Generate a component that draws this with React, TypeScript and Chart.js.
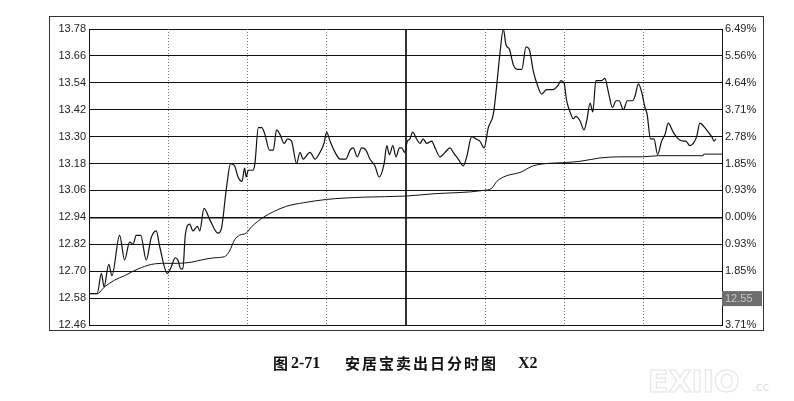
import { useEffect, useRef } from 'react';
import { Chart, registerables } from 'chart.js';

Chart.register(...registerables);

// ---- data (minutes since open, price) ----
const priceMinutes = [
  0, 3.1, 4.7, 5.7, 7.5, 8.7, 11.6, 13.5, 15.4, 16.7, 17.9, 19.6, 21.7, 23.6, 25.5, 26.8,
  29.7, 31.2, 32.7, 33.7, 34.8, 35.6, 36.5, 38.2, 39.4, 41.1, 42.0, 43.6, 45.8, 48.9, 50.2,
  52.1, 53.7, 55.2, 56.5, 58.0, 59.0, 59.6, 60.4, 62.1, 62.9, 64.2, 65.5, 66.7, 68.4, 69.9,
  71.1, 72.4, 74.0, 75.3, 76.8, 78.7, 80.0, 81.2, 83.8, 85.7, 87.6, 89.1, 90.1, 91.4, 93.3,
  95.2, 97.4, 99.0, 100.2, 101.7, 103.4, 105.0, 106.5, 108.4, 110.0, 111.9, 112.9, 113.9,
  115.2, 116.4, 117.7, 118.6, 119.6, 120.7, 121.7, 122.7, 124.2, 125.5, 126.7, 128.0, 129.9,
  131.2, 133.1, 135.0, 136.9, 138.1, 140.0, 141.9, 143.2, 145.1, 146.7, 148.2, 149.8, 151.4,
  153.3, 154.6, 155.8, 157.1, 158.1, 159.4, 160.9, 162.4, 164.1, 165.7, 166.9, 168.5, 170.0,
  171.6, 173.5, 176.0, 177.9, 178.9, 180.1, 181.1, 182.4, 183.6, 184.6, 186.2, 187.7, 188.7,
  190.0, 191.0, 192.2, 194.4, 195.6, 196.9, 198.5, 199.8, 201.0, 202.6, 204.1, 206.1, 207.0,
  208.3, 209.5, 210.8, 211.6, 212.9, 214.2, 215.6, 217.1, 218.4, 219.6, 221.5, 223.4, 225.3,
  226.3, 227.8, 229.1, 230.4, 231.6, 233.5, 234.8, 236.1, 237.0, 237.7,
];
const priceValues = [
  12.60, 12.60, 12.69, 12.63, 12.73, 12.68, 12.86, 12.75, 12.83, 12.82, 12.86, 12.86, 12.75, 12.85, 12.88, 12.81,
  12.69, 12.72, 12.76, 12.75, 12.71, 12.71, 12.86, 12.91, 12.88, 12.90, 12.88, 12.98, 12.93, 12.87, 12.89,
  13.07, 13.18, 13.17, 13.12, 13.10, 13.16, 13.12, 13.15, 13.15, 13.18, 13.34, 13.34, 13.31, 13.24, 13.24,
  13.33, 13.31, 13.27, 13.29, 13.28, 13.18, 13.23, 13.20, 13.23, 13.20, 13.23, 13.27, 13.32, 13.28, 13.23,
  13.20, 13.20, 13.24, 13.25, 13.21, 13.25, 13.24, 13.20, 13.17, 13.12, 13.18, 13.26, 13.22,
  13.26, 13.21, 13.25, 13.25, 13.23, 13.28, 13.29, 13.32, 13.29, 13.27, 13.29, 13.27, 13.28,
  13.25, 13.21, 13.23, 13.25, 13.23, 13.20, 13.17, 13.21, 13.30, 13.29, 13.28, 13.25, 13.34,
  13.40, 13.53, 13.67, 13.78, 13.71, 13.69, 13.62, 13.60, 13.60, 13.70, 13.69, 13.59, 13.53,
  13.49, 13.51, 13.51, 13.53, 13.55, 13.54, 13.46, 13.41, 13.38, 13.39, 13.37, 13.33, 13.37,
  13.45, 13.41, 13.55, 13.55, 13.56, 13.50, 13.43, 13.46, 13.46, 13.42, 13.46, 13.46, 13.48,
  13.535, 13.50, 13.43, 13.40, 13.29, 13.29, 13.22, 13.28, 13.31, 13.36, 13.32, 13.29, 13.28,
  13.28, 13.26, 13.27, 13.30, 13.36, 13.34, 13.32, 13.30, 13.28, 13.29,
];
const avgMinutes = [
  0, 3.1, 5.9, 9.7, 13.5, 18.6, 23.6, 28.7, 33.7, 38.8, 42.6, 47.7, 51.4, 53.3, 55.2, 57.1,
  59.6, 61.8, 66.1, 69.9, 75.0, 81.3, 90.1, 104.0, 120.1, 130.4, 149.4, 152.7, 154.6, 157.1,
  159.6, 163.4, 168.5, 181.1, 186.2, 193.8, 201.3, 209.9, 215.9, 224.1, 232.9, 233.0, 240,
];
const avgValues = [
  12.60, 12.60, 12.63, 12.66, 12.68, 12.71, 12.73, 12.735, 12.735, 12.74, 12.75, 12.76, 12.765, 12.79, 12.84, 12.86,
  12.87, 12.90, 12.94, 12.965, 12.99, 13.005, 13.02, 13.03, 13.035, 13.045, 13.06, 13.07, 13.10, 13.12,
  13.13, 13.14, 13.17, 13.185, 13.19, 13.205, 13.21, 13.21, 13.215, 13.215, 13.215, 13.222, 13.222,
];

const priceTicks = [12.46, 12.58, 12.70, 12.82, 12.94, 13.06, 13.18, 13.30, 13.42, 13.54, 13.66, 13.78];
const priceTickLabels = ['12.46', '12.58', '12.70', '12.82', '12.94', '13.06', '13.18', '13.30', '13.42', '13.54', '13.66', '13.78'];
const pctTickLabels = ['3.71%', '2.78%', '1.85%', '0.93%', '0.00%', '0.93%', '1.85%', '2.78%', '3.71%', '4.64%', '5.56%', '6.49%'];
const basePrice = 12.94;
const timeGridMinutes = [30, 60, 90, 120, 150, 180, 210];
const middayMinute = 120;
const tagPrice = 12.58;
const tagLabel = '12.55';
const captionFig = '图 2-71';
const captionTitle = '安居宝卖出日分时图';
const captionTag = 'X2';

const decorPlugin = {
  id: 'decor',
  beforeDatasetsDraw(chart: any) {
    const { ctx, chartArea, scales } = chart;
    const xs = scales.x;
    ctx.save();
    timeGridMinutes.forEach((m) => {
      const px = Math.round(xs.getPixelForValue(m));
      ctx.beginPath();
      if (m === middayMinute) {
        ctx.setLineDash([]);
        ctx.strokeStyle = '#000';
        ctx.lineWidth = 1.6;
        ctx.moveTo(px, chartArea.top);
        ctx.lineTo(px, chartArea.bottom);
      } else {
        ctx.setLineDash([1, 2]);
        ctx.strokeStyle = '#777';
        ctx.lineWidth = 1;
        ctx.moveTo(px + 0.5, chartArea.top);
        ctx.lineTo(px + 0.5, chartArea.bottom);
      }
      ctx.stroke();
    });
    ctx.restore();
  },
  afterDraw(chart: any) {
    const { ctx, chartArea, scales } = chart;
    ctx.save();
    // outer frame
    ctx.strokeStyle = '#333';
    ctx.lineWidth = 1;
    ctx.strokeRect(49.5, 16.5, 714, 314);
    // last price tag
    const ty = scales.y.getPixelForValue(tagPrice);
    ctx.fillStyle = '#6e6e6e';
    ctx.fillRect(chartArea.right, ty - 7, 40, 15);
    ctx.fillStyle = '#c8c8c8';
    ctx.font = '11px "Liberation Sans", Arial';
    ctx.textBaseline = 'middle';
    ctx.textAlign = 'left';
    ctx.fillText(tagLabel, chartArea.right + 3, ty + 1);
    // caption
    ctx.fillStyle = '#111';
    ctx.textBaseline = 'middle';
    (ctx as any).letterSpacing = '0px';
    ctx.font = 'bold 15px "Noto Sans CJK SC"';
    ctx.fillText(captionFig.slice(0, 1), 273, 363);
    ctx.font = 'bold 16px "Liberation Serif"';
    ctx.fillText(captionFig.slice(2), 291, 364);
    ctx.font = 'bold 15px "Noto Sans CJK SC"';
    (ctx as any).letterSpacing = '2px';
    ctx.fillText(captionTitle, 345, 363);
    (ctx as any).letterSpacing = '0px';
    ctx.font = 'bold 16px "Liberation Serif"';
    ctx.fillText(captionTag, 518, 364);
    // watermark
    ctx.strokeStyle = '#e4e4e4';
    ctx.lineWidth = 1;
    ctx.font = 'bold 30px "DejaVu Sans"';
    ctx.textBaseline = 'alphabetic';
    ctx.strokeText('EXIIO', 648, 392);
    ctx.fillStyle = '#dedede';
    ctx.font = '12px "DejaVu Sans"';
    ctx.fillText('.cc', 752, 391);
    ctx.restore();
  },
};

export default function App() {
  const ref = useRef<HTMLCanvasElement>(null);
  useEffect(() => {
    if (!ref.current) return;
    const setTicks = (axis: any) => {
      axis.ticks = priceTicks.map((v) => ({ value: v }));
    };
    const chart = new Chart(ref.current, {
      type: 'line',
      data: {
        datasets: [
          {
            data: priceMinutes.map((m, i) => ({ x: m, y: priceValues[i] })),
            borderColor: '#111',
            borderWidth: 1.2,
            pointRadius: 0,
            tension: 0.3,
            cubicInterpolationMode: 'monotone',
            yAxisID: 'y',
          },
          {
            data: avgMinutes.map((m, i) => ({ x: m, y: avgValues[i] })),
            borderColor: '#111',
            borderWidth: 1,
            pointRadius: 0,
            tension: 0.3,
            cubicInterpolationMode: 'monotone',
            yAxisID: 'y',
          },
        ],
      },
      options: {
        responsive: false,
        animation: false,
        layout: { padding: { top: 29, left: 0, right: 0, bottom: 0 } },
        plugins: { legend: { display: false }, tooltip: { enabled: false } },
        scales: {
          x: {
            type: 'linear',
            min: 0,
            max: 240,
            ticks: { display: false },
            grid: { display: false },
            border: { display: false },
            afterFit: (s: any) => { s.height = 76; },
          },
          y: {
            position: 'left',
            min: priceTicks[0],
            max: priceTicks[priceTicks.length - 1],
            afterBuildTicks: setTicks,
            afterFit: (s: any) => { s.width = 89; },
            ticks: {
              padding: 3,
              color: '#222',
              font: { family: '"Liberation Sans", Arial', size: 11 },
              callback: (_v: any, i: number) => priceTickLabels[i],
            },
            grid: {
              color: '#111',
              drawTicks: false,
              lineWidth: (c: any) => (c.tick && Math.abs(c.tick.value - basePrice) < 1e-6 ? 1.6 : 1),
            },
            border: { display: true, color: '#111', width: 1 },
          },
          y2: {
            position: 'right',
            min: priceTicks[0],
            max: priceTicks[priceTicks.length - 1],
            afterBuildTicks: setTicks,
            afterFit: (s: any) => { s.width = 72; },
            ticks: {
              padding: 3,
              color: '#222',
              font: { family: '"Liberation Sans", Arial', size: 11 },
              callback: (_v: any, i: number) => pctTickLabels[i],
            },
            grid: { drawOnChartArea: false, drawTicks: false },
            border: { display: true, color: '#111', width: 1 },
          },
        },
      } as any,
      plugins: [decorPlugin],
    });
    return () => chart.destroy();
  }, []);
  return (
    <div style={{ position: 'absolute', left: 0, top: 0, width: 794, height: 401, background: '#fff' }}>
      <canvas ref={ref} width={794} height={401} style={{ display: 'block' }} />
    </div>
  );
}
